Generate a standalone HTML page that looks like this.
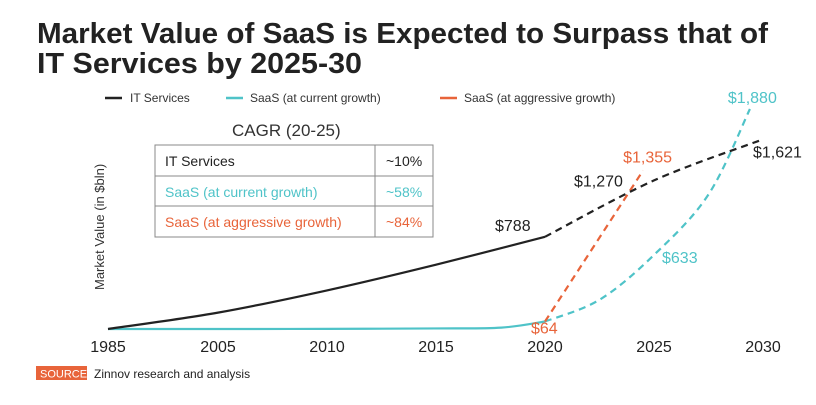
<!DOCTYPE html>
<html><head><meta charset="utf-8"><style>
body{margin:0;background:#fff;}
svg{display:block;font-family:"Liberation Sans",sans-serif;}
</style></head><body>
<svg id="chart" width="816" height="405" viewBox="0 0 816 405">
<text x="37" y="43" font-size="29" font-weight="bold" fill="#222" textLength="731" lengthAdjust="spacingAndGlyphs">Market Value of SaaS is Expected to Surpass that of</text>
<text x="37" y="73" font-size="29" font-weight="bold" fill="#222" textLength="325" lengthAdjust="spacingAndGlyphs">IT Services by 2025-30</text>
<g font-size="12" fill="#333">
<g><line x1="105" y1="98" x2="122" y2="98" stroke="#222" stroke-width="2.5"/><text x="130" y="102">IT Services</text></g>
<g><line x1="226" y1="98" x2="243" y2="98" stroke="#4fc3c8" stroke-width="2.5"/><text x="250" y="102">SaaS (at current growth)</text></g>
<g><line x1="440" y1="98" x2="457" y2="98" stroke="#e8643a" stroke-width="2.5"/><text x="464" y="102">SaaS (at aggressive growth)</text></g>
</g>
<text transform="translate(104,290) rotate(-90)" font-size="13" fill="#333">Market Value (in $bln)</text>
<g>
<text x="232" y="136" font-size="17" fill="#333">CAGR (20-25)</text>
<rect x="155" y="145" width="278" height="92" fill="none" stroke="#888" stroke-width="1"/>
<line x1="155" y1="176" x2="433" y2="176" stroke="#888"/>
<line x1="155" y1="206" x2="433" y2="206" stroke="#888"/>
<line x1="375" y1="145" x2="375" y2="237" stroke="#888"/>
<g font-size="14">
<text x="165" y="166" fill="#222">IT Services</text><text x="386" y="166" fill="#222">~10%</text>
<text x="165" y="197" fill="#4fc3c8">SaaS (at current growth)</text><text x="386" y="197" fill="#4fc3c8">~58%</text>
<text x="165" y="227" fill="#e8643a">SaaS (at aggressive growth)</text><text x="386" y="227" fill="#e8643a">~84%</text>
</g></g>
<g id="axis"></g>
<g id="marks"></g>
<g>
<rect x="36" y="366" width="51" height="14" fill="#e8643a"/>
<text x="40" y="377.5" font-size="11" fill="#fff">SOURCE</text>
<text x="94" y="378" font-size="12" fill="#222">Zinnov research and analysis</text>
</g>
</svg>
<script>
const tickYears=[1985,2005,2010,2015,2020,2025,2030];
const itYears=[1985,2005,2010,2015,2020];
const itValues=[0,140,330,550,788];
const itProjYears=[2020,2025,2030];
const itProjValues=[788,1270,1621];
const saasYears=[1985,2005,2010,2015,2018,2020];
const saasValues=[0,0,1,5,12,64];
const saasProjYears=[2020,2022.5,2025,2027.5,2029.4];
const saasProjValues=[64,250,633,1150,1880];
const aggYears=[2020,2024.5];
const aggValues=[64,1355];
const labels=[{t:"$788",y:2020,v:788,dx:-50,dy:-6,c:"#222"},{t:"$1,270",y:2025,v:1270,dx:-80,dy:6,c:"#222"},{t:"$1,621",y:2030,v:1621,dx:-10,dy:18,c:"#222"},{t:"$1,880",y:2029.4,v:1880,dx:-22,dy:-6,c:"#4fc3c8"},{t:"$1,355",y:2024.5,v:1355,dx:-20,dy:-8,c:"#e8643a"},{t:"$633",y:2025,v:633,dx:8,dy:8,c:"#4fc3c8"},{t:"$64",y:2020,v:64,dx:-14,dy:12,c:"#e8643a"}];
const NS="http://www.w3.org/2000/svg";
function xS(yr){return yr<2005?108+(yr-1985)/20*110:218+(yr-2005)*21.8;}
function yS(v){return 329-v*0.117;}
function smooth(xs,vs){const p=xs.map((x,i)=>[xS(x),yS(vs[i])]);let d="M"+p[0][0]+","+p[0][1];
for(let i=0;i<p.length-1;i++){const p0=p[i-1]||p[i],p1=p[i],p2=p[i+1],p3=p[i+2]||p2;
const c1=[p1[0]+(p2[0]-p0[0])/6,p1[1]+(p2[1]-p0[1])/6],c2=[p2[0]-(p3[0]-p1[0])/6,p2[1]-(p3[1]-p1[1])/6];
d+=" C"+c1+" "+c2+" "+p2;}return d;}
const marks=document.getElementById('marks');
function path(xs,vs,col,dash,name){const e=document.createElementNS(NS,'path');e.setAttribute('d',smooth(xs,vs));e.setAttribute('fill','none');e.setAttribute('stroke',col);e.setAttribute('stroke-width','2.2');if(dash)e.setAttribute('stroke-dasharray','7,5');


marks.appendChild(e);}
path(saasYears,saasValues,"#4fc3c8",false,'saas-current-line');
path(saasProjYears,saasProjValues,"#4fc3c8",true,'saas-current-projection');
path(aggYears,aggValues,"#e8643a",true,'saas-aggressive-projection');
path(itYears,itValues,"#222",false,'it-services-line');
path(itProjYears,itProjValues,"#222",true,'it-services-projection');
labels.forEach(l=>{const t=document.createElementNS(NS,'text');t.setAttribute('x',xS(l.y)+l.dx);t.setAttribute('y',yS(l.v)+l.dy);t.setAttribute('font-size','16');t.setAttribute('fill',l.c);t.textContent=l.t;


marks.appendChild(t);});
const ax=document.getElementById('axis');
tickYears.forEach(y=>{const t=document.createElementNS(NS,'text');t.setAttribute('x',xS(y));t.setAttribute('y','352');t.setAttribute('text-anchor','middle');t.setAttribute('font-size','16');t.setAttribute('fill','#222');t.textContent=y;


ax.appendChild(t);});
</script>
</body></html>
